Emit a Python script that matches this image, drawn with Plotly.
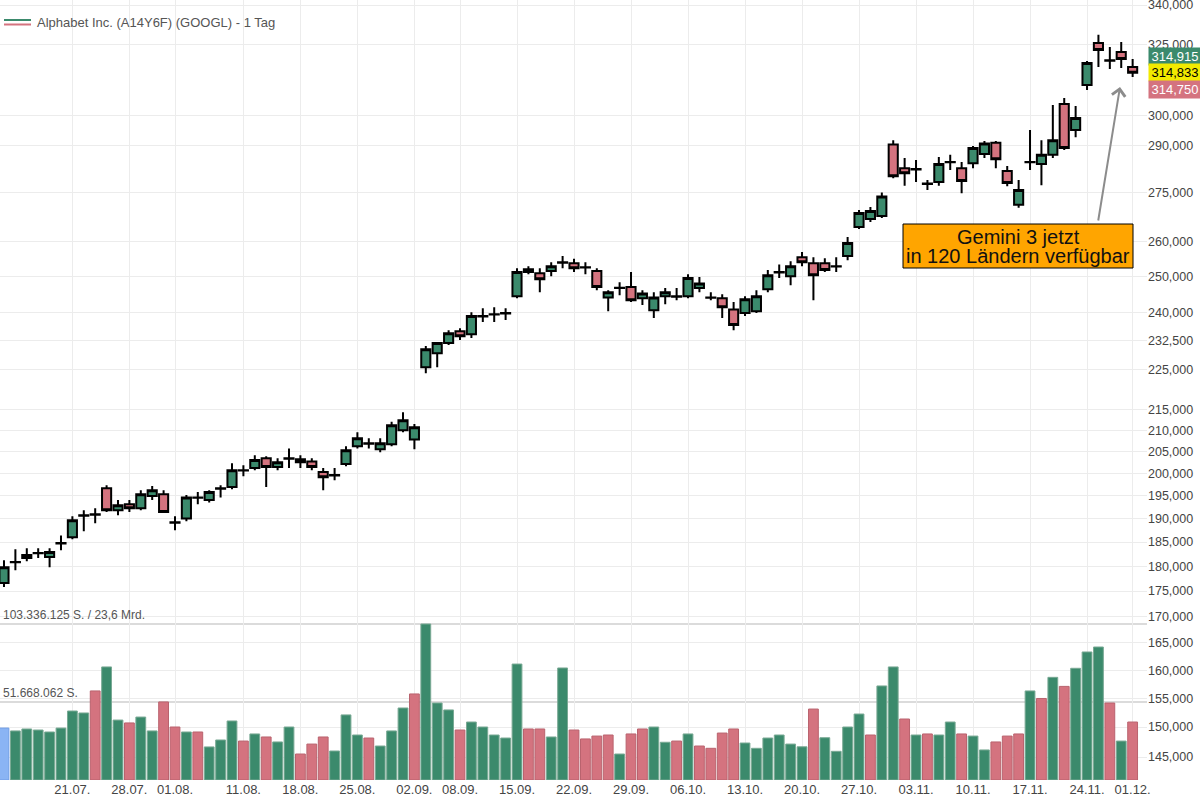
import math
import plotly.graph_objects as go

# ---------------- data ----------------
dates = [
    "2025-07-11",
    "2025-07-14", "2025-07-15", "2025-07-16", "2025-07-17", "2025-07-18",
    "2025-07-21", "2025-07-22", "2025-07-23", "2025-07-24", "2025-07-25",
    "2025-07-28", "2025-07-29", "2025-07-30", "2025-07-31", "2025-08-01",
    "2025-08-04", "2025-08-05", "2025-08-06", "2025-08-07", "2025-08-08",
    "2025-08-11", "2025-08-12", "2025-08-13", "2025-08-14", "2025-08-15",
    "2025-08-18", "2025-08-19", "2025-08-20", "2025-08-21", "2025-08-22",
    "2025-08-25", "2025-08-26", "2025-08-27", "2025-08-28", "2025-08-29",
    "2025-09-02", "2025-09-03", "2025-09-04", "2025-09-05",
    "2025-09-08", "2025-09-09", "2025-09-10", "2025-09-11", "2025-09-12",
    "2025-09-15", "2025-09-16", "2025-09-17", "2025-09-18", "2025-09-19",
    "2025-09-22", "2025-09-23", "2025-09-24", "2025-09-25", "2025-09-26",
    "2025-09-29", "2025-09-30", "2025-10-01", "2025-10-02", "2025-10-03",
    "2025-10-06", "2025-10-07", "2025-10-08", "2025-10-09", "2025-10-10",
    "2025-10-13", "2025-10-14", "2025-10-15", "2025-10-16", "2025-10-17",
    "2025-10-20", "2025-10-21", "2025-10-22", "2025-10-23", "2025-10-24",
    "2025-10-27", "2025-10-28", "2025-10-29", "2025-10-30", "2025-10-31",
    "2025-11-03", "2025-11-04", "2025-11-05", "2025-11-06", "2025-11-07",
    "2025-11-10", "2025-11-11", "2025-11-12", "2025-11-13", "2025-11-14",
    "2025-11-17", "2025-11-18", "2025-11-19", "2025-11-20", "2025-11-21",
    "2025-11-24", "2025-11-25", "2025-11-26", "2025-11-28",
    "2025-12-01",
]

opens = [
    176.6, 180.8, 182.3, 182.65, 181.9, 184.7, 186.0, 190.6, 190.9, 196.6,
    191.8, 193.1, 192.2, 194.9, 195.3, 189.1, 190.0, 194.5, 194.0, 196.5,
    196.9, 200.6, 201.2, 203.4, 201.4, 203.3, 202.5, 202.7, 200.3, 199.5,
    202.1, 206.2, 206.8, 205.5, 206.7, 210.0, 207.8, 225.5, 229.1, 231.8,
    234.9, 234.1, 238.9, 239.4, 239.7, 244.4, 252.0, 250.9, 251.5, 253.9,
    253.7, 252.5, 251.5, 244.1, 246.7, 247.0, 243.9, 240.6, 244.4, 244.3,
    244.4, 246.7, 244.0, 243.9, 240.8, 239.8, 240.3, 246.4, 251.1, 250.0,
    255.5, 253.7, 253.7, 252.8, 255.8, 264.4, 266.8, 267.7, 290.3, 282.6,
    282.2, 277.6, 278.2, 284.5, 282.6, 284.2, 287.2, 290.9, 281.7, 271.1,
    284.5, 283.9, 286.9, 303.9, 295.1, 310.5, 325.7, 319.2, 322.4, 316.9,
]
highs = [
    181.2, 183.5, 183.7, 183.7, 183.7, 186.4, 190.5, 191.8, 192.2, 197.3,
    194.0, 194.0, 196.2, 197.1, 196.2, 190.5, 195.1, 195.8, 196.2, 197.3,
    202.3, 201.8, 204.1, 203.9, 203.4, 205.7, 204.1, 203.4, 201.2, 201.2,
    206.2, 209.5, 208.1, 208.1, 212.0, 214.3, 211.5, 231.0, 232.1, 235.2,
    235.7, 240.0, 241.1, 241.4, 241.1, 252.3, 252.9, 252.3, 254.0, 255.8,
    255.0, 254.0, 252.3, 246.1, 248.3, 251.2, 246.1, 245.5, 246.7, 246.7,
    250.6, 249.8, 245.5, 245.0, 242.8, 244.4, 246.1, 251.8, 253.4, 254.3,
    257.0, 255.5, 255.2, 255.5, 261.4, 269.5, 270.4, 274.9, 291.7, 285.9,
    285.2, 278.8, 286.2, 286.9, 284.6, 289.8, 291.4, 291.4, 283.3, 278.8,
    295.1, 291.7, 303.6, 306.0, 303.2, 319.1, 328.7, 324.2, 326.0, 319.8,
]
lows = [
    175.8, 179.2, 181.0, 181.7, 179.8, 183.3, 185.6, 187.3, 189.0, 191.4,
    190.7, 191.4, 191.8, 194.0, 191.2, 187.5, 189.4, 193.1, 193.5, 194.6,
    196.4, 199.3, 200.7, 196.9, 200.7, 201.2, 201.2, 200.7, 196.2, 198.4,
    201.6, 205.7, 205.7, 204.8, 206.2, 209.5, 205.5, 224.0, 225.5, 231.3,
    232.6, 233.1, 237.4, 237.4, 237.9, 243.9, 250.6, 245.5, 250.0, 252.3,
    251.2, 250.6, 246.1, 240.3, 244.7, 242.8, 242.0, 238.5, 242.2, 243.3,
    243.9, 245.5, 243.3, 238.5, 235.2, 239.0, 239.8, 245.5, 249.5, 247.5,
    252.9, 243.3, 251.2, 251.2, 254.6, 263.8, 265.9, 267.1, 279.4, 277.0,
    278.2, 275.7, 277.0, 282.0, 274.7, 282.6, 285.9, 282.6, 276.9, 270.2,
    282.0, 277.2, 285.9, 288.5, 292.7, 308.8, 316.9, 316.2, 316.6, 313.4,
]
closes = [
    179.8, 180.85, 181.7, 182.7, 182.9, 184.8, 189.6, 190.7, 190.8, 191.8,
    192.9, 192.2, 195.3, 196.2, 191.4, 189.2, 194.6, 194.6, 195.8, 196.6,
    200.7, 200.7, 203.0, 201.4, 202.5, 203.4, 203.2, 201.4, 199.1, 199.6,
    205.3, 208.1, 206.9, 206.9, 211.2, 212.4, 210.7, 230.2, 231.8, 234.4,
    233.6, 239.0, 239.0, 239.5, 239.8, 251.2, 251.2, 249.2, 252.9, 254.0,
    252.3, 252.6, 247.0, 245.5, 246.8, 243.3, 245.2, 244.1, 245.5, 244.4,
    249.5, 248.0, 244.1, 241.4, 236.6, 243.6, 244.4, 250.3, 251.2, 252.9,
    254.0, 250.3, 251.8, 252.9, 259.6, 268.6, 269.2, 273.7, 280.0, 281.0,
    282.3, 277.7, 283.9, 284.6, 278.5, 289.1, 290.6, 285.5, 277.9, 275.7,
    284.6, 286.9, 291.7, 289.1, 299.1, 318.4, 323.1, 319.4, 319.8, 314.833,
]
# daily volume, millions of shares
volumes_m = [
    34.4, 32.5, 33.8, 33.1, 31.8, 34.4, 45.7, 44.4, 59.0, 74.9,
    39.7, 37.8, 41.7, 32.5, 51.7, 35.1, 31.8, 31.8, 21.9, 26.5,
    39.1, 25.8, 30.5, 28.5, 25.2, 35.1, 17.2, 23.8, 28.5, 19.2,
    43.1, 29.8, 27.8, 22.5, 32.5, 47.7, 57.0, 103.336125, 51.0, 46.4,
    33.1, 38.4, 35.1, 29.8, 27.8, 76.8, 33.8, 33.8, 28.5, 74.2,
    33.1, 27.2, 29.1, 29.8, 17.2, 30.5, 33.8, 35.1, 25.0, 25.8,
    30.5, 22.5, 21.0, 31.1, 33.8, 24.5, 21.0, 27.8, 29.8, 23.8,
    22.0, 47.0, 28.0, 19.0, 35.1, 43.7, 29.8, 62.3, 74.9, 40.4,
    29.8, 30.5, 29.8, 38.4, 30.5, 29.1, 19.9, 25.2, 29.1, 30.5,
    59.0, 54.0, 68.0, 62.0, 74.0, 84.8, 88.1, 51.0, 25.8, 38.4,
]
# volume bar direction: b = first (reference) bar, u = up, d = down
vol_dir = list(
    "b" "uuuuuuu" "d" "uu" "d" "uu" "dd" "u" "d" "uuu" "d" "u" "d" "uu" "ddd"
    "uuu" "d" "uuu" "d" "uuu" "d" "uuuuu" "dd" "uu" "dddd" "u" "dd" "uu" "d"
    "u" "dddd" "uuuuuu" "d" "uuuu" "d" "uu" "d" "u" "d" "uu" "d" "uu" "ddd"
    "u" "d" "u" "d" "uuu" "d" "u" "d"
)

tick_dates = ["2025-07-21", "2025-07-28", "2025-08-01", "2025-08-11", "2025-08-18",
              "2025-08-25", "2025-09-02", "2025-09-08", "2025-09-15", "2025-09-22",
              "2025-09-29", "2025-10-06", "2025-10-13", "2025-10-20", "2025-10-27",
              "2025-11-03", "2025-11-10", "2025-11-17", "2025-11-24", "2025-12-01"]
tick_text = ["21.07.", "28.07.", "01.08.", "11.08.", "18.08.", "25.08.", "02.09.",
             "08.09.", "15.09.", "22.09.", "29.09.", "06.10.", "13.10.", "20.10.",
             "27.10.", "03.11.", "10.11.", "17.11.", "24.11.", "01.12."]

price_ticks = [340, 325, 300, 290, 275, 260, 250, 240, 232.5, 225, 215, 210, 205,
               200, 195, 190, 185, 180, 175, 170, 165, 160, 155, 150, 145]

last_quotes = [314.915, 314.833, 314.750]   # ask / last / bid
vol_max = 103336125
vol_max_text = "103.336.125 S. / 23,6 Mrd."
vol_half_text = "51.668.062 S."
title_text = "Alphabet Inc. (A14Y6F) (GOOGL) - 1 Tag"
note_lines = ["Gemini 3 jetzt", "in 120 Ländern verfügbar"]

# ---------------- styling ----------------
FONT = "Liberation Sans, Arial, sans-serif"
GREEN = "#3b8a6c"
RED = "#d4737f"
BLUE = "#8ab4f4"
GRID = "#ececec"
TXT = "#444444"

PW, PH = 1147.0, 780.0   # plot area in px


def px(x):
    return x / PW


def py(y):
    return 1 - y / PH


volumes = [v * 1e6 for v in volumes_m]

fill_map = {"u": GREEN, "d": RED, "b": BLUE}
line_map = {"u": "#79a994", "d": "#b9636e", "b": "#6f9de6"}
bar_fill = [fill_map[d] for d in vol_dir]
bar_line = [line_map[d] for d in vol_dir]

fig = go.Figure()

fig.add_trace(go.Bar(
    x=dates, y=volumes, yaxis="y2",
    marker=dict(color=bar_fill, line=dict(color=bar_line, width=1)),
    width=0.86, showlegend=False, hoverinfo="skip",
))

fig.add_trace(go.Candlestick(
    x=dates, open=opens, high=highs, low=lows, close=closes,
    increasing=dict(line=dict(color="black", width=2), fillcolor=GREEN),
    decreasing=dict(line=dict(color="black", width=2), fillcolor=RED),
    whiskerwidth=0, showlegend=False, hoverinfo="skip",
))

shapes = [
    # volume reference lines
    dict(type="line", xref="paper", x0=0, x1=1, yref="y2", y0=vol_max, y1=vol_max,
         line=dict(color="#cfcfcf", width=1.5), layer="below"),
    dict(type="line", xref="paper", x0=0, x1=1, yref="y2", y0=vol_max / 2, y1=vol_max / 2,
         line=dict(color="#cfcfcf", width=1.5), layer="below"),
    # legend icon
    dict(type="line", xref="paper", yref="paper", x0=px(4), x1=px(31), y0=py(20), y1=py(20),
         line=dict(color=GREEN, width=2)),
    dict(type="line", xref="paper", yref="paper", x0=px(4), x1=px(31), y0=py(24.5), y1=py(24.5),
         line=dict(color=RED, width=2)),
    # note box
    dict(type="rect", xref="paper", yref="paper", x0=px(903), x1=px(1133), y0=py(268), y1=py(224),
         fillcolor="#FFA500", line=dict(color="black", width=1), layer="above"),
]

annotations = [
    dict(xref="paper", yref="paper", x=px(35), y=py(22), xanchor="left", yanchor="middle",
         text=title_text, showarrow=False, font=dict(size=13, color="#555555", family=FONT)),
    dict(xref="paper", yref="y2", x=px(1), y=vol_max, xanchor="left", yanchor="bottom",
         text=vol_max_text, showarrow=False, font=dict(size=12, color="#555555", family=FONT)),
    dict(xref="paper", yref="y2", x=px(1), y=vol_max / 2, xanchor="left", yanchor="bottom",
         text=vol_half_text, showarrow=False, font=dict(size=12, color="#555555", family=FONT)),
    dict(xref="paper", yref="paper", x=px(1018), y=py(236.5), xanchor="center", yanchor="middle",
         text=note_lines[0], showarrow=False, font=dict(size=20, color="#111111", family=FONT)),
    dict(xref="paper", yref="paper", x=px(1018), y=py(256.5), xanchor="center", yanchor="middle",
         text=note_lines[1], showarrow=False, font=dict(size=20, color="#111111", family=FONT)),
    dict(xref="paper", yref="paper", x=px(1120), y=py(87), ax=-22, ay=135, text="",
         showarrow=True, arrowhead=4, arrowsize=1.3, arrowwidth=2, arrowcolor="#8c8c8c",
         standoff=0, startstandoff=0),
]

quote_styles = [(16.5, GREEN, "white"), (0, "#f2ea00", "black"), (-16.5, RED, "white")]
for q, (shift, bg, fg) in zip(last_quotes, quote_styles):
    annotations.append(dict(
        xref="paper", yref="y", x=1, xanchor="left", xshift=1,
        y=math.log10(last_quotes[1]), yshift=shift, yanchor="middle",
        text=f"{q:.3f}".replace(".", ","), showarrow=False,
        bgcolor=bg, width=50, height=15, borderpad=1,
        font=dict(size=13, color=fg, family=FONT),
    ))

fig.update_layout(
    width=1200, height=800,
    margin=dict(l=0, r=53, t=0, b=20),
    paper_bgcolor="white", plot_bgcolor="white",
    separators=",.",
    font=dict(family=FONT, color=TXT),
    showlegend=False,
    boxgap=0.2, boxgroupgap=0,
    bargap=0.14,
    xaxis=dict(
        type="category", range=[-0.35, 100.26],
        tickmode="array", tickvals=tick_dates, ticktext=tick_text,
        showgrid=True, gridcolor=GRID, gridwidth=1, ticks="",
        zeroline=False, showline=False, automargin=False,
        tickfont=dict(size=13, color=TXT, family=FONT),
        rangeslider=dict(visible=False),
    ),
    yaxis=dict(
        type="log", side="right",
        range=[2.15005, 2.53394],
        tickmode="array", tickvals=price_ticks, tickformat=".3f",
        showgrid=True, gridcolor=GRID, gridwidth=1, ticks="",
        zeroline=False, showline=False, automargin=False,
        ticklabeloverflow="allow",
        tickfont=dict(size=12.5, color=TXT, family=FONT),
    ),
    yaxis2=dict(
        overlaying="y", range=[0, vol_max * 5], visible=False,
        showgrid=False, zeroline=False, fixedrange=True,
    ),
    shapes=shapes,
    annotations=annotations,
)

fig.write_html("out.html")
